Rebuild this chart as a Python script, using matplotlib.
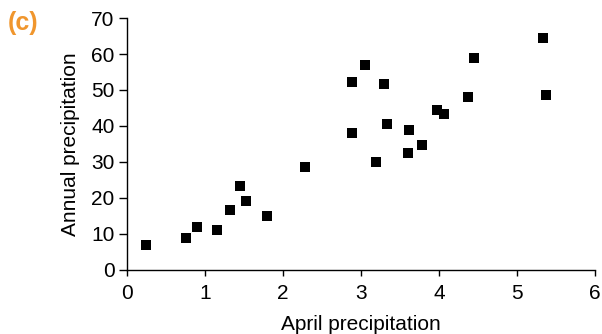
import matplotlib
matplotlib.use("Agg")
import matplotlib.pyplot as plt

april = [0.24, 0.76, 0.90, 1.16, 1.32, 1.45, 1.53, 1.80, 2.28, 2.89, 2.89, 3.05,
         3.19, 3.29, 3.34, 3.61, 3.62, 3.79, 3.97, 4.06, 4.38, 4.45, 5.33, 5.37]
annual = [6.9, 8.9, 11.9, 11.1, 16.7, 23.4, 19.2, 15.1, 28.6, 52.2, 38.1, 57.0,
          30.1, 51.8, 40.6, 32.6, 39.0, 34.8, 44.5, 43.3, 48.1, 59.0, 64.5, 48.7]
xticks = [0, 1, 2, 3, 4, 5, 6]
yticks = [0, 10, 20, 30, 40, 50, 60, 70]

plt.rcParams['font.family'] = ['Liberation Sans', 'DejaVu Sans']

fig = plt.figure(figsize=(6.02, 3.34), dpi=100)
ax = fig.add_axes([0.211, 0.192, 0.777, 0.754])
ax.scatter(april, annual, marker='s', s=52, color='black', linewidths=0, clip_on=False, zorder=3)
ax.set_xlim(0, 6)
ax.set_ylim(0, 70)
ax.set_xticks(xticks)
ax.set_yticks(yticks)
ax.spines['top'].set_visible(False)
ax.spines['right'].set_visible(False)
for s in ['left', 'bottom']:
    ax.spines[s].set_linewidth(1.0)
ax.tick_params(direction='out', width=1.0, labelsize=15)
ax.tick_params(axis='x', length=4.5, pad=6)
ax.tick_params(axis='y', length=6, pad=3)
ax.set_xlabel('April precipitation', fontsize=15, labelpad=8)
ax.set_ylabel('Annual precipitation', fontsize=15, labelpad=8)
fig.text(0.013, 0.91, '(c)', fontsize=18, fontweight='bold', color='#F0962D')
fig.savefig('out.png', dpi=100)
